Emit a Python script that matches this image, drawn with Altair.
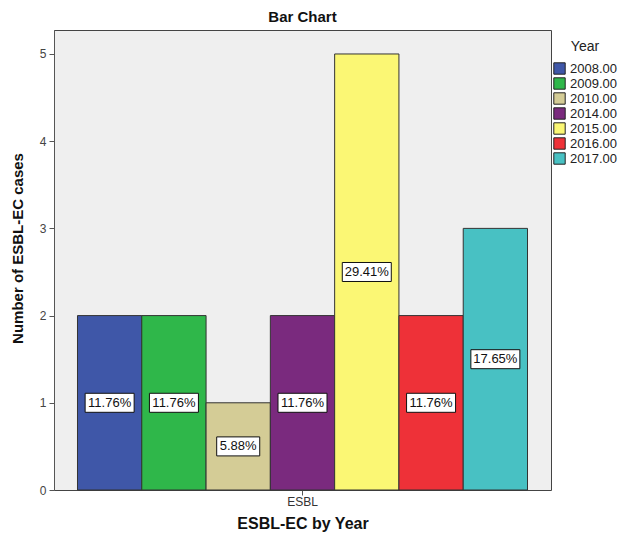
import altair as alt
import pandas as pd

years = ["2008.00", "2009.00", "2010.00", "2014.00", "2015.00", "2016.00", "2017.00"]
counts = [2, 2, 1, 2, 5, 2, 3]
pct_labels = ["11.76%", "11.76%", "5.88%", "11.76%", "29.41%", "11.76%", "17.65%"]
colors = ["#3f57a8", "#2fb74a", "#d4cc96", "#7a2a7e", "#fbf774", "#ee3138", "#48c1c3"]
group = "ESBL"

df = pd.DataFrame({
    "Group": [group] * len(years),
    "Year": years,
    "Count": counts,
    "Label": pct_labels,
})

FONT = "Liberation Sans"

x_enc = alt.X("Group:N", scale=alt.Scale(paddingInner=0, paddingOuter=0.0522),
              axis=alt.Axis(title="ESBL-EC by Year", labelAngle=0, domain=False,
                            tickSize=5, tickColor="#555", labelColor="#333",
                            labelFontSize=12, labelPadding=1, labelFont=FONT,
                            titleFont=FONT, titleFontSize=16, titleFontWeight="bold",
                            titleColor="#111", titlePadding=8))
xoff = alt.XOffset("Year:N", sort=years, scale=alt.Scale(paddingInner=0, paddingOuter=0))

bars = alt.Chart(df).mark_bar(stroke="#333", strokeWidth=1).encode(
    x=x_enc,
    xOffset=xoff,
    y=alt.Y("Count:Q", scale=alt.Scale(domain=[0, 5.275], nice=False, zero=True),
            axis=alt.Axis(title="Number of ESBL-EC cases", values=[0, 1, 2, 3, 4, 5],
                          format="d",
                          grid=False, tickSize=5, tickColor="#555", domainColor="#555",
                          labelColor="#444", labelFontSize=12, labelFont=FONT,
                          labelPadding=3, titleFont=FONT, titleFontSize=15,
                          titleFontWeight="bold", titleColor="#111",
                          titleX=-37, titleY=218, titleBaseline="middle",
                          titleAlign="center")),
    color=alt.Color("Year:N", sort=years,
                    scale=alt.Scale(domain=years, range=colors),
                    legend=alt.Legend(title="Year", orient="none", legendX=499, legendY=10,
                                      titleFont=FONT, titleFontSize=14, titleFontWeight="normal",
                                      titleColor="#222", titleAnchor="middle", titlePadding=8,
                                      labelFont=FONT, labelFontSize=13, labelColor="#222",
                                      symbolType="square", symbolSize=130,
                                      symbolStrokeColor="#222", symbolStrokeWidth=1,
                                      symbolOpacity=1, rowPadding=-2, labelOffset=4)),
)

path_long = "M-1,-0.388L1,-0.388L1,0.388L-1,0.388Z"
path_short = "M-0.878,-0.388L0.878,-0.388L0.878,0.388L-0.878,0.388Z"

base = alt.Chart(df).transform_calculate(
    mid="datum.Count / 2",
    kind="length(datum.Label) > 5 ? 'long' : 'short'",
)

boxes = base.mark_point(filled=True, fill="white", stroke="#111", strokeWidth=1,
                        opacity=1, size=2401).encode(
    x=alt.X("Group:N"),
    xOffset=alt.XOffset("Year:N", sort=years),
    y=alt.Y("mid:Q"),
    shape=alt.Shape("kind:N", scale=alt.Scale(domain=["long", "short"],
                                              range=[path_long, path_short]),
                    legend=None),
)

texts = base.mark_text(font=FONT, fontSize=13, color="#111", baseline="middle",
                       align="center").encode(
    x=alt.X("Group:N"),
    xOffset=alt.XOffset("Year:N", sort=years),
    y=alt.Y("mid:Q"),
    text="Label:N",
)

chart = alt.layer(bars, boxes, texts).properties(
    width=497,
    height=460,
    title=alt.Title("Bar Chart", font=FONT, fontSize=15, fontWeight="bold",
                    color="#111", anchor="middle", offset=5),
    autosize=alt.AutoSizeParams(type="none"),
    padding={"left": 54, "top": 30, "right": 67, "bottom": 52},
    background="white",
).configure_view(
    fill="#efefef", stroke="#444", strokeWidth=1,
)

chart.save("out.html", embed_options={"renderer": "svg", "actions": False})
